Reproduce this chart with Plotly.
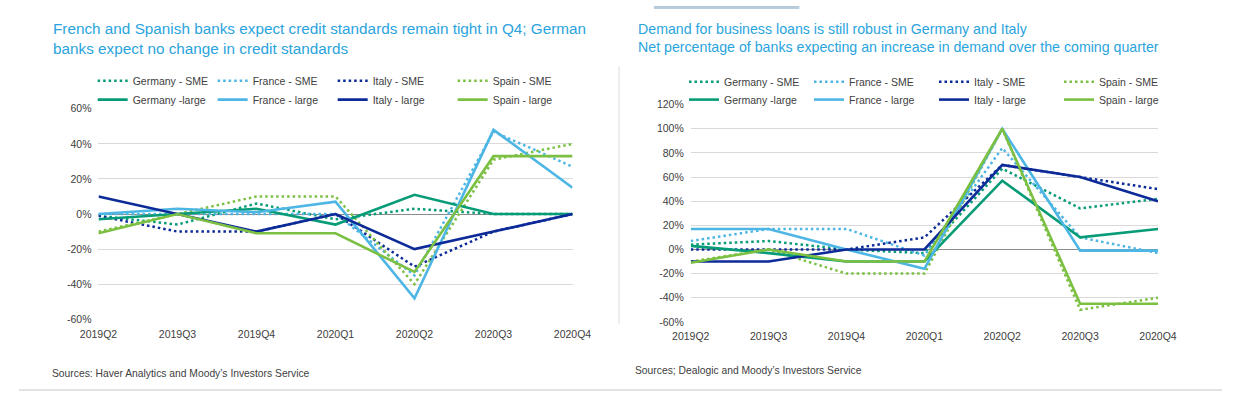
import plotly.graph_objects as go

W, H = 1241, 398

quarters = ["2019Q2", "2019Q3", "2019Q4", "2020Q1", "2020Q2", "2020Q3", "2020Q4"]

# Left chart: credit standards expectations (net %)
cs_germany_sme = [-1, -6, 6, -3, 3, 0, 0]
cs_france_sme = [0, 0, 0, 0, -35, 47, 27]
cs_italy_sme = [-1, -10, -10, 0, -30, -10, 0]
cs_spain_sme = [-10, 0, 10, 10, -40, 31, 40]
cs_germany_large = [-3, 0, 3, -6, 11, 0, 0]
cs_france_large = [0, 3, 1, 7, -48, 48, 15]
cs_italy_large = [10, 0, -10, 0, -20, -10, 0]
cs_spain_large = [-11, 0, -11, -11, -33, 33, 33]

# Right chart: loan demand expectations (net %)
ld_germany_sme = [4, 7, 0, -3, 67, 34, 42]
ld_france_sme = [7, 17, 17, -5, 84, 10, -3]
ld_italy_sme = [0, 0, 0, 10, 70, 60, 50]
ld_spain_sme = [-10, 0, -20, -20, 100, -50, -40]
ld_germany_large = [3, -3, -10, -10, 57, 10, 17]
ld_france_large = [17, 17, 0, -16, 100, -1, -1]
ld_italy_large = [-10, -10, 0, 0, 70, 60, 40]
ld_spain_large = [-11, 0, -10, -10, 100, -45, -45]

left_tickvals = [60, 40, 20, 0, -20, -40, -60]
left_ticktext = ["60%", "40%", "20%", "0%", "-20%", "-40%", "-60%"]
right_tickvals = [120, 100, 80, 60, 40, 20, 0, -20, -40, -60]
right_ticktext = ["120%", "100%", "80%", "60%", "40%", "20%", "0%", "-20%", "-40%", "-60%"]

names_sme = ["Germany - SME", "France - SME", "Italy - SME", "Spain - SME"]
names_large = ["Germany -large", "France - large", "Italy - large", "Spain - large"]
colors = ["#079C77", "#4DB6E4", "#0C2A98", "#7CC043"]

title_left = "French and Spanish banks expect credit standards remain tight in Q4; German<br>banks expect no change in credit standards"
title_right = "Demand for business loans is still robust in Germany and Italy<br>Net percentage of banks expecting an increase in demand over the coming quarter"
source_left = "Sources: Haver Analytics and Moody\u2019s Investors Service"
source_right = "Sources; Dealogic and Moody\u2019s Investors Service"

FONT = "Liberation Sans, Arial, sans-serif"
TITLE_COLOR = "#2AA4DE"
TEXT_COLOR = "#404040"


def px_x(x):
    return x / W


def px_y(y):
    return 1 - y / H


fig = go.Figure()

left_sme = [cs_germany_sme, cs_france_sme, cs_italy_sme, cs_spain_sme]
left_large = [cs_germany_large, cs_france_large, cs_italy_large, cs_spain_large]
right_sme = [ld_germany_sme, ld_france_sme, ld_italy_sme, ld_spain_sme]
right_large = [ld_germany_large, ld_france_large, ld_italy_large, ld_spain_large]

for sme_set, large_set, xa, ya, lg1, lg2 in [
    (left_sme, left_large, "x", "y", "legend", "legend2"),
    (right_sme, right_large, "x2", "y2", "legend3", "legend4"),
]:
    for i in range(4):
        fig.add_trace(go.Scatter(
            x=quarters, y=sme_set[i], name=names_sme[i], mode="lines",
            line=dict(color=colors[i], width=2.5, dash="2.5px,3px"),
            xaxis=xa, yaxis=ya, legend=lg1, hoverinfo="skip"))
    for i in range(4):
        fig.add_trace(go.Scatter(
            x=quarters, y=large_set[i], name=names_large[i], mode="lines",
            line=dict(color=colors[i], width=2.6),
            xaxis=xa, yaxis=ya, legend=lg2, hoverinfo="skip"))

tickfont = dict(family=FONT, size=10.5, color=TEXT_COLOR)

xcommon = dict(type="category", range=[0, 6], showgrid=False, zeroline=False,
               showline=False, ticks="", tickfont=tickfont, ticklabelstandoff=7,
               fixedrange=True)
ycommon = dict(showgrid=True, gridcolor="#D9D9D9", gridwidth=1, zeroline=True,
               zerolinecolor="#8C8C8C", zerolinewidth=1, showline=False, ticks="",
               tickfont=tickfont, tickmode="array", ticklabelstandoff=6, fixedrange=True)

legend_common = dict(orientation="h", font=dict(family=FONT, size=10.5, color=TEXT_COLOR),
                     bgcolor="rgba(0,0,0,0)", xanchor="left", yanchor="middle",
                     entrywidthmode="pixels", itemclick=False, itemdoubleclick=False,
                     tracegroupgap=0, traceorder="normal")

fig.update_layout(
    width=W, height=H,
    margin=dict(l=0, r=0, t=0, b=0),
    paper_bgcolor="white", plot_bgcolor="white",
    font=dict(family=FONT, color=TEXT_COLOR),
    showlegend=True,
    xaxis=dict(xcommon, domain=[px_x(82), px_x(571)], anchor="y"),
    yaxis=dict(ycommon, domain=[px_y(323), px_y(106)], range=[-60, 60],
               tickvals=left_tickvals, ticktext=left_ticktext, anchor="x"),
    xaxis2=dict(xcommon, domain=[px_x(693), px_x(1175)], anchor="y2"),
    yaxis2=dict(ycommon, domain=[px_y(325.7), px_y(101.7)], range=[-60, 120],
                tickvals=right_tickvals, ticktext=right_ticktext, anchor="x2"),
    legend=dict(legend_common, x=px_x(76), y=px_y(77), entrywidth=75),
    legend2=dict(legend_common, x=px_x(76), y=px_y(96.5), entrywidth=75),
    legend3=dict(legend_common, x=px_x(686), y=px_y(78), entrywidth=80),
    legend4=dict(legend_common, x=px_x(686), y=px_y(96.5), entrywidth=80),
)

annotations = [
    dict(text=title_left, x=px_x(33), y=px_y(12), xanchor="left", yanchor="top",
         align="left", font=dict(family=FONT, size=15.3, color=TITLE_COLOR)),
    dict(text=title_right, x=px_x(636), y=px_y(13), xanchor="left", yanchor="top",
         align="left", font=dict(family=FONT, size=14.2, color=TITLE_COLOR)),
    dict(text=source_left, x=px_x(32), y=px_y(379), xanchor="left", yanchor="middle",
         align="left", font=dict(family=FONT, size=10.3, color=TEXT_COLOR)),
    dict(text=source_right, x=px_x(633), y=px_y(376), xanchor="left", yanchor="middle",
         align="left", font=dict(family=FONT, size=10.3, color=TEXT_COLOR)),
]
for a in annotations:
    a.update(xref="paper", yref="paper", showarrow=False)
fig.update_layout(annotations=annotations)

shapes = [
    dict(type="line", x0=px_x(619), x1=px_x(619), y0=px_y(62), y1=px_y(328),
         line=dict(color="#DCDCDC", width=1)),
    dict(type="line", x0=0, x1=1, y0=px_y(396), y1=px_y(396),
         line=dict(color="#E3E3E3", width=2)),
    dict(type="rect", x0=px_x(655), x1=px_x(805), y0=px_y(3), y1=1,
         fillcolor="#B7CCDC", line=dict(width=0)),
]
for s in shapes:
    s.update(xref="paper", yref="paper", layer="below")
fig.update_layout(shapes=shapes)

post = ("document.documentElement.style.margin='0';"
        "document.body.style.margin='0';document.body.style.padding='0';"
        "document.body.style.overflow='hidden';")

fig.write_html("out.html", config=dict(displayModeBar=False), post_script=post)
